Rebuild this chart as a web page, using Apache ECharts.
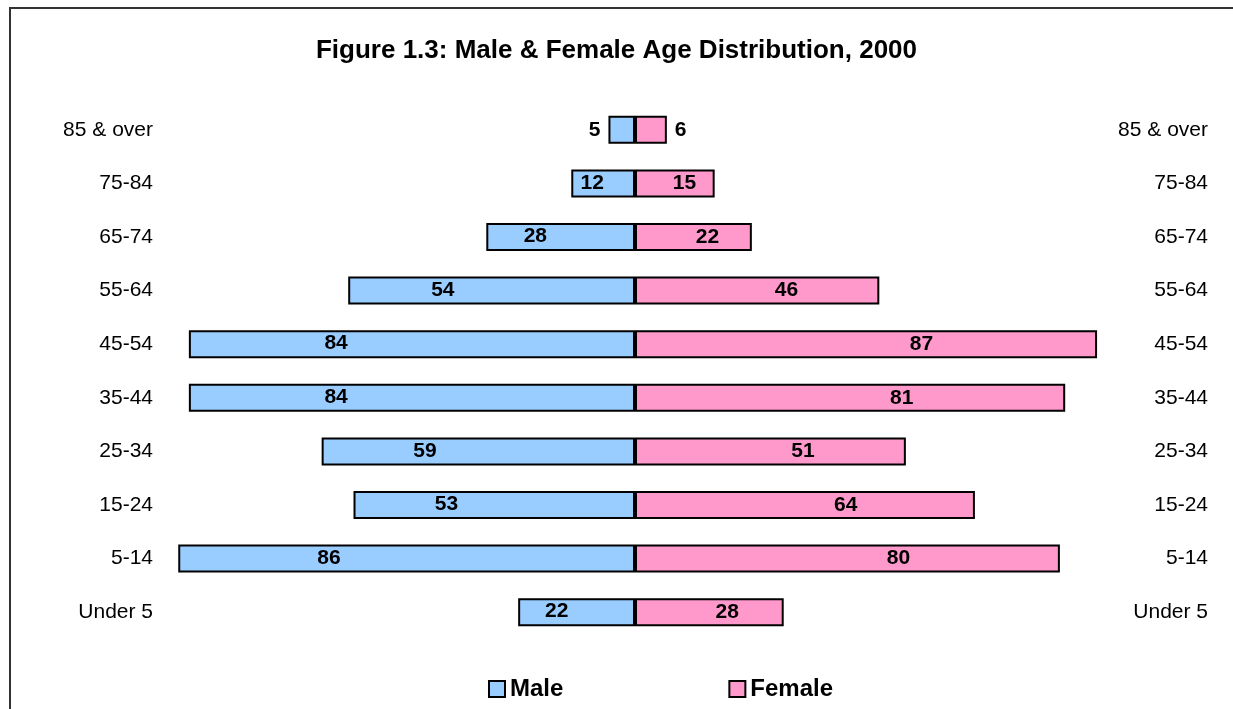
<!DOCTYPE html>
<html lang="en">
<head>
    <meta charset="UTF-8">
    <title>Male & Female Age Distribution, 2000</title>
    <script src="https://cdn.jsdelivr.net/npm/echarts@6/dist/echarts.min.js"></script>
    <style>
        html, body { margin: 0; padding: 0; background: #fff; }
        #main { width: 1233px; height: 709px; }
    </style>
</head>
<body>
    <div id="main"></div>
</body>
<script>
    // age groups, bottom to top
    var ageGroups = ['Under 5', '5-14', '15-24', '25-34', '35-44', '45-54', '55-64', '65-74', '75-84', '85 & over'];
    var male = [22, 86, 53, 59, 84, 84, 54, 28, 12, 5];
    var female = [28, 80, 64, 51, 81, 87, 46, 22, 15, 6];

    var font = '"Liberation Sans", Arial, sans-serif';

    // small bars get their number outside the bar
    function barData(values, sign, side, pos) {
        return values.map(function (v) {
            var lab = v < 10
                ? { position: side, align: side == 'left' ? 'right' : 'left', distance: 8 }
                : { position: pos, align: 'center' };
            return { value: sign * v, label: lab };
        });
    }

    var myChart = echarts.init(document.getElementById('main'));

    var option = {
        backgroundColor: '#fff',
        animation: false,
        title: {
            text: 'Figure 1.3: Male & Female Age Distribution, 2000',
            left: 'center',
            top: 33,
            textStyle: { fontFamily: font, fontSize: 26, fontWeight: 'bold', color: '#000' }
        },
        graphic: [{
            type: 'rect',
            shape: { x: 10, y: 8, width: 1300, height: 800 },
            style: { fill: 'none', stroke: '#333', lineWidth: 2 },
            silent: true
        }],
        legend: {
            data: ['Male', 'Female'],
            left: 488,
            top: 677,
            padding: 0,
            itemWidth: 16,
            itemHeight: 16,
            itemGap: 165,
            icon: 'rect',
            textStyle: { fontFamily: font, fontSize: 24, fontWeight: 'bold', color: '#000' }
        },
        grid: {
            left: 157,
            right: 120,
            top: 103,
            bottom: 70
        },
        xAxis: {
            type: 'value',
            min: -90,
            max: 90,
            show: false
        },
        yAxis: [
            {
                type: 'category',
                data: ageGroups,
                position: 'left',
                axisLine: { show: false },
                axisTick: { show: false },
                axisLabel: { margin: 4, fontFamily: font, fontSize: 21, color: '#000' }
            },
            {
                type: 'category',
                data: ageGroups,
                position: 'right',
                axisLine: { show: false },
                axisTick: { show: false },
                axisLabel: { margin: 95, align: 'right', fontFamily: font, fontSize: 21, color: '#000' }
            }
        ],
        series: [
            {
                name: 'Male',
                type: 'bar',
                barWidth: 28,
                barGap: '-100%',
                data: barData(male, -1, 'left', ['33%', '48%']),
                itemStyle: { color: '#99CCFF', borderColor: '#000', borderWidth: 2 },
                label: {
                    show: true,
                    formatter: function (p) { return Math.abs(p.value); },
                    verticalAlign: 'middle',
                    fontFamily: font, fontSize: 21, fontWeight: 'bold', color: '#000'
                }
            },
            {
                name: 'Female',
                type: 'bar',
                barWidth: 28,
                barGap: '-100%',
                data: barData(female, 1, 'right', ['62%', '50%']),
                itemStyle: { color: '#FF99CC', borderColor: '#000', borderWidth: 2 },
                label: {
                    show: true,
                    verticalAlign: 'middle',
                    fontFamily: font, fontSize: 21, fontWeight: 'bold', color: '#000'
                }
            }
        ]
    };

    myChart.setOption(option);
</script>
</html>
